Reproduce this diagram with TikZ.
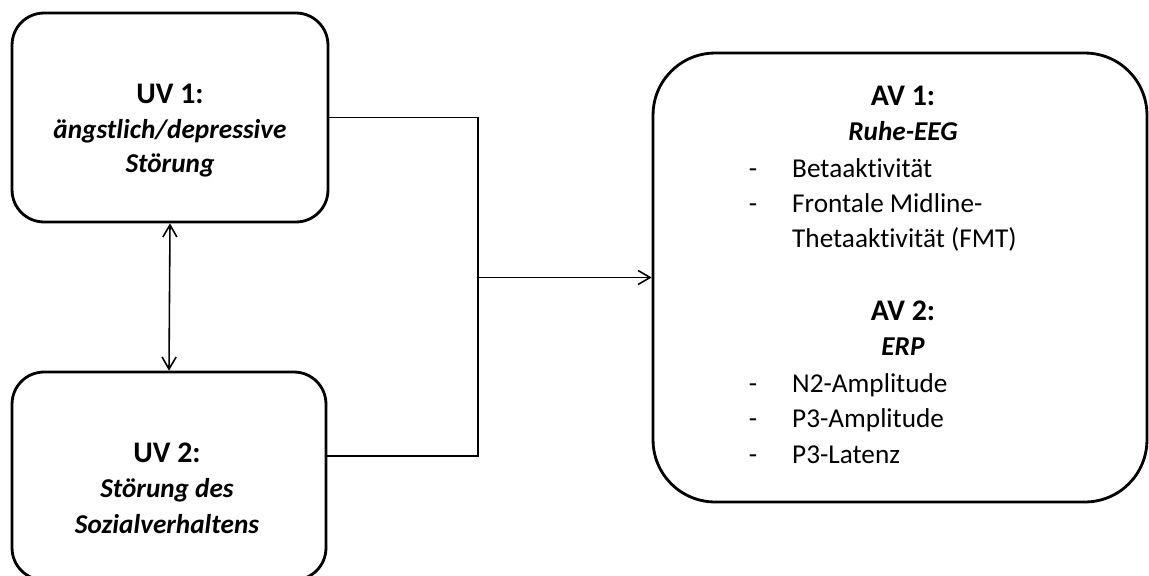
\documentclass[tikz,border=0pt]{standalone}
\usepackage{fontspec}
\setmainfont{Carlito}[Ligatures={NoCommon}]
\usetikzlibrary{arrows.meta, positioning}

\tikzset{
  varbox/.style={draw, line width=1.6pt, rounded corners=0.64cm, inner sep=0pt},
  link/.style={line width=0.9pt},
  tip/.style={-{Straight Barb[length=2.4mm, width=2.8mm]}},
  tips/.style={{Straight Barb[length=2.4mm, width=2.8mm]}-{Straight Barb[length=2.4mm, width=2.8mm]}},
  head/.style={anchor=base, font=\bfseries\fontsize{17}{20}\selectfont},
  sub/.style={anchor=base, font=\bfseries\itshape\fontsize{15.5}{19}\selectfont},
  item/.style={anchor=base west, font=\fontsize{15.5}{19}\selectfont}
}

\begin{document}
\begin{tikzpicture}[x=0.02cm, y=-0.02cm]
    \useasboundingbox (0,0) rectangle (1149,575);
    % Boxes
    \node[varbox, minimum width=6.32cm, minimum height=4.18cm] (uv1) at (170,117.5) {};
    \node[varbox, minimum width=6.28cm, minimum height=4.16cm] (uv2) at (169,476) {};
    \node[varbox, rounded corners=1.24cm, minimum width=9.88cm, minimum height=8.98cm] (av) at (900,277.5) {};
    % UV 1
    \node[head] (uv1a) at (170,103) {UV 1:};
    \node[sub] (uv1b) at (170,138) {ängstlich/depressive};
    \node[sub] (uv1c) at (170,172) {Störung};
    % UV 2
    \node[head] (uv2a) at (167,462) {UV 2:};
    \node[sub] (uv2b) at (167,497) {Störung des};
    \node[sub] (uv2c) at (167,533) {Sozialverhaltens};
    % AV 1 and AV 2
    \node[head] (av1a) at (903,105) {AV 1:};
    \node[sub] (av1b) at (903,140) {Ruhe-EEG};
    \node[head] (av2a) at (903,320) {AV 2:};
    \node[sub] (av2b) at (903,355) {ERP};
    \foreach \y in {177, 212, 392, 427, 463}
      \node[item, anchor=base] at (753,\y) {-};
    \foreach \y/\t in {177/Betaaktivität, 212/Frontale Midline-, 247/Thetaaktivität (FMT),
                       392/N2-Amplitude, 427/P3-Amplitude, 463/P3-Latenz}
      \node[item] at (786,\y) {\t};
    % Connectors
    \coordinate (hub) at (478,277.5);
    \draw[link] (uv1.east) -| (hub);
    \draw[link] ([yshift=0.4cm]uv2.east) -| (hub);
    \draw[link, tip] (hub) -- (av.west);
    \draw[link, tips] (uv1.south) -- (uv2.north);
  \end{tikzpicture}
\end{document}
